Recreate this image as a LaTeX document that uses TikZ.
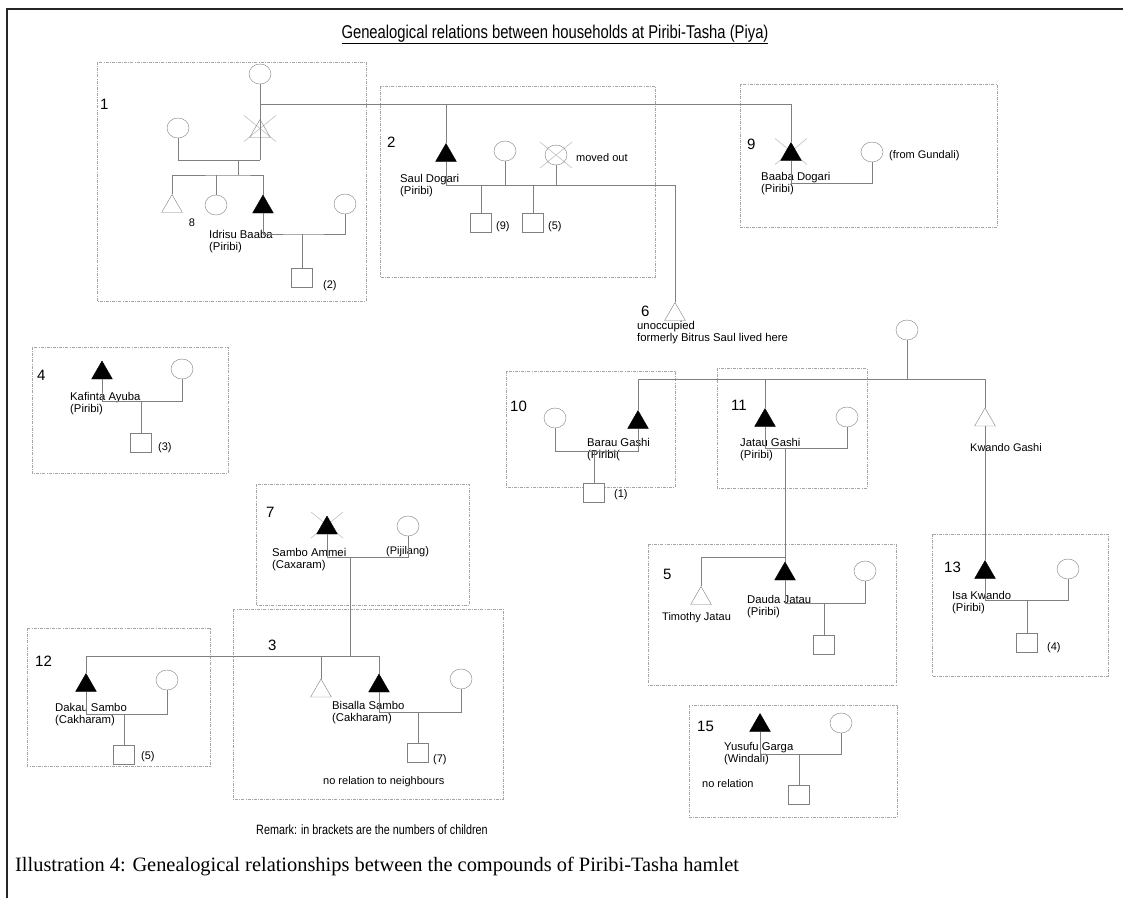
\documentclass[tikz,border=0pt]{standalone}
\usepackage{fontspec}
\setmainfont{Liberation Serif}
\newfontfamily\lblfont{Liberation Sans}
\newfontfamily\narrowfont[FakeStretch=0.8]{Liberation Sans}
\usepackage{tikz}
\usetikzlibrary{shapes.geometric, backgrounds}
\usepackage{xcolor}
\definecolor{linegray}{RGB}{128,128,128}
\definecolor{boxgray}{RGB}{165,165,165}
% light cross over a deceased / moved-out person
\newcommand{\deadx}[2][0]{\draw[deadline] ([shift={(-16,-13+#1)}]#2.center) -- ([shift={(16,13+#1)}]#2.center) ([shift={(-16,13+#1)}]#2.center) -- ([shift={(16,-13+#1)}]#2.center);}

\begin{document}
\begin{tikzpicture}[x=1pt, y=-1pt,
    kin/.style={draw=linegray, line width=0.7pt},
    male/.style={regular polygon, regular polygon sides=3, draw=black, fill=black, minimum size=24pt, inner sep=0pt},
    maleopen/.style={male, draw=linegray, fill=white},
    female/.style={ellipse, draw=linegray, fill=white, minimum width=22pt, minimum height=20pt, inner sep=0pt},
    child/.style={rectangle, draw=linegray, fill=white, minimum width=21pt, minimum height=19pt, inner sep=0pt},
    hhbox/.style={draw=boxgray, line width=0.7pt, dash pattern=on 3pt off 1.2pt on 0.8pt off 1.2pt},
    hhnum/.style={anchor=west, inner sep=0pt, font=\lblfont\fontsize{15}{15}\selectfont},
    pname/.style={anchor=north west, align=left, inner sep=0pt, font=\lblfont\fontsize{11.3}{12.5}\selectfont},
    note/.style={anchor=west, inner sep=0pt, font=\lblfont\fontsize{11}{12}\selectfont},
    deadline/.style={draw=gray!45, line width=0.7pt},
    frame/.style={draw=black!85, line width=2pt}
  ]
  \useasboundingbox (0,0) rectangle (1123,898);
  \draw[frame] (7,898) -- (7,9) -- (1123,9);

  \node[anchor=base, inner sep=0pt, font=\narrowfont\fontsize{18.5}{19}\selectfont] (title) at (555,38)
    {\underline{Genealogical relations between households at Piribi-Tasha (Piya)}};

  % households
  \draw[hhbox] (97,62) rectangle (366,301);
  \draw[hhbox] (380,86) rectangle (655,277);
  \draw[hhbox] (740,84) rectangle (997,227);
  \draw[hhbox] (32,347) rectangle (228,473);
  \draw[hhbox] (506,371) rectangle (675,487);
  \draw[hhbox] (717,368) rectangle (867,488);
  \draw[hhbox] (256,484) rectangle (469,605);
  \draw[hhbox] (233,609) rectangle (503,799);
  \draw[hhbox] (27,628) rectangle (210,766);
  \draw[hhbox] (648,544) rectangle (896,685);
  \draw[hhbox] (932,534) rectangle (1108,676);
  \draw[hhbox] (689,705) rectangle (897,817);

  \node[hhnum] (n1) at (100,104) {1};
  \node[hhnum] (n2) at (387,142) {2};
  \node[hhnum] (n9) at (747,144) {9};
  \node[hhnum] (n4) at (37,375) {4};
  \node[hhnum] (n6) at (641,311) {6};
  \node[hhnum] (n10) at (510,406) {10};
  \node[hhnum] (n11) at (731,405) {11};
  \node[hhnum] (n7) at (266,512) {7};
  \node[hhnum] (n3) at (268,645) {3};
  \node[hhnum] (n12) at (35,661) {12};
  \node[hhnum] (n5) at (663,574) {5};
  \node[hhnum] (n13) at (944,567) {13};
  \node[hhnum] (n15) at (697,726) {15};

  % household 1
  \node[female] (ma) at (260,74) {};
  \node[maleopen, fill=none] (d1) at (260,131.5) {};
  \node[female] (w1a) at (178,128) {};
  \node[maleopen] (k1a) at (172,206.5) {};
  \node[female] (k1b) at (216,205) {};
  \node[male] (idr) at (263,207) {};
  \node[female] (w1b) at (345,204) {};
  \node[child] (s1) at (302,278) {};
  \coordinate (top1) at (260,104);
  \coordinate (m1r) at (260,160);
  \coordinate (c1) at (238,160);
  \coordinate (sb1) at (238,175);
  \coordinate (m1b) at (302,234);
  \node[note, anchor=center] (l1a) at (192,223) {8};
  \node[note] (l1b) at (323,286) {(2)};
  \node[pname] (l1c) at (209,230) {Idrisu Baaba\\(Piribi)};

  % household 2
  \node[male] (saul) at (446,155.5) {};
  \node[female] (w2) at (505,151) {};
  \node[female, fill=none] (x2) at (556,155) {};
  \node[child] (k2a) at (481,223) {};
  \node[child] (k2b) at (533,223) {};
  \coordinate (m2e) at (675,185);
  \node[note] (l2a) at (576,158) {moved out};
  \node[note] (l2b) at (496,227) {(9)};
  \node[note] (l2c) at (548,227) {(5)};
  \node[pname] (l2d) at (400,174) {Saul Dogari\\(Piribi)};

  % household 9
  \node[male] (baaba) at (791,154.5) {};
  \node[female] (w9) at (872,152) {};
  \coordinate (m9) at (791,183);
  \node[note] (l9a) at (889,156) {(from Gundali)};
  \node[pname] (l9b) at (761,172) {Baaba Dogari\\(Piribi)};

  % household 4
  \node[male] (kaf) at (102,373) {};
  \node[female] (w4) at (182,369) {};
  \node[child] (s4) at (141,443) {};
  \coordinate (c4) at (141,401);
  \node[note] (l4a) at (158,448) {(3)};
  \node[pname] (l4b) at (70,392) {Kafinta Ayuba\\(Piribi)};

  % household 6
  \node[maleopen] (t6) at (675,314.5) {};
  \node[pname] (l6) at (637,321) {unoccupied\\formerly Bitrus Saul lived here};

  % Gashi family, households 10, 11, 5, 13
  \node[female] (gm) at (907,330) {};
  \coordinate (g0) at (907,379);
  \node[male] (barau) at (638,422.5) {};
  \node[female] (w10) at (555,418) {};
  \node[child] (s10) at (594,493) {};
  \coordinate (m10) at (594,451);
  \node[note] (l10a) at (614,495) {(1)};
  \node[pname] (l10b) at (587,438) {Barau Gashi\\(Piribi(};

  \node[male] (jatau) at (765,420.5) {};
  \node[female] (w11) at (847,417) {};
  \coordinate (m11) at (785,448);
  \node[pname] (l11) at (740,438) {Jatau Gashi\\(Piribi)};

  \node[maleopen] (kwando) at (985,420) {};
  \node[note] (lkw) at (970,448) {Kwando Gashi};

  \node[male] (dauda) at (785,574) {};
  \node[maleopen] (timothy) at (701,598.5) {};
  \node[female] (w5) at (865,571) {};
  \node[child] (s5) at (824,645) {};
  \coordinate (sb5) at (785,557);
  \coordinate (m5) at (824,603);
  \node[note] (l5a) at (662,618) {Timothy Jatau};
  \node[pname] (l5b) at (747,595) {Dauda Jatau\\(Piribi)};

  \node[male] (isa) at (985,572.5) {};
  \node[female] (w13) at (1068,569) {};
  \node[child] (s13) at (1027,643) {};
  \coordinate (m13) at (1027,600);
  \node[note] (l13a) at (1047,648) {(4)};
  \node[pname] (l13b) at (952,591) {Isa Kwando\\(Piribi)};

  % household 15
  \node[male] (yus) at (760,725.5) {};
  \node[female] (w15) at (841,723) {};
  \node[child] (s15) at (799,795) {};
  \coordinate (m15) at (799,754);
  \node[pname] (l15a) at (724,742) {Yusufu Garga\\(Windali)};
  \node[note] (l15b) at (702,784) {no relation};

  % households 7, 3, 12
  \node[male] (sambo) at (327,528) {};
  \node[female] (w7) at (408,526) {};
  \coordinate (m7) at (350,557);
  \coordinate (sb3) at (350,656);
  \node[pname] (l7a) at (272,548) {Sambo Ammei\\(Caxaram)};
  \node[note] (l7b) at (386,552) {(Pijilang)};

  \node[maleopen] (t3) at (321,691) {};
  \node[male] (bisalla) at (379,686) {};
  \node[female] (w3) at (461,679) {};
  \node[child] (s3) at (418,753) {};
  \coordinate (m3) at (418,712);
  \node[note] (l3a) at (433,760) {(7)};
  \node[pname] (l3b) at (332,701) {Bisalla Sambo\\(Cakharam)};
  \node[note] (l3c) at (323,782) {no relation to neighbours};

  \node[male] (dakau) at (86,685.5) {};
  \node[female] (w12) at (167,680) {};
  \node[child] (s12) at (124,755) {};
  \coordinate (m12) at (124,714);
  \node[note] (l12a) at (141,757) {(5)};
  \node[pname] (l12b) at (55,703) {Dakau Sambo\\(Cakharam)};

  % kinship lines
  \draw[kin] (ma) -- (m1r);
  \draw[kin] (top1) -| (saul.north);
  \draw[kin] (top1) -| (baaba.north);
  \draw[kin] (w1a) |- (m1r);
  \draw[kin] (c1) -- (sb1);
  \draw[kin] (k1a.north) |- (sb1) -| (idr.north);
  \draw[kin] (k1b) -- (k1b |- sb1);
  \draw[kin] (idr.south) |- (m1b) -| (w1b);
  \draw[kin] (m1b) -- (s1);

  \draw[kin] (saul.south) |- (m2e) -- (t6.north);
  \draw[kin] (w2) -- (w2 |- m2e);
  \draw[kin] (x2) -- (x2 |- m2e);
  \draw[kin] (k2a) -- (k2a |- m2e);
  \draw[kin] (k2b) -- (k2b |- m2e);

  \draw[kin] (baaba.south) -- (m9) -| (w9);

  \draw[kin] (kaf.south) |- (c4) -| (w4);
  \draw[kin] (c4) -- (s4);

  \draw[kin] (gm) -- (g0);
  \draw[kin] (barau.north) |- (g0);
  \draw[kin] (kwando.north) |- (g0);
  \draw[kin] (jatau.north) -- (jatau.north |- g0);
  \draw[kin] (kwando) -- (isa);

  \draw[kin] (w10) |- (m10) -| (barau.south);
  \draw[kin] (m10) -- (s10);
  \draw[kin] (jatau.south) |- (m11) -| (w11);
  \draw[kin] (m11) -- (dauda.north);

  \draw[kin] (timothy.north) |- (sb5);
  \draw[kin] (dauda.south) |- (m5) -| (w5);
  \draw[kin] (m5) -- (s5);

  \draw[kin] (isa.south) |- (m13) -| (w13);
  \draw[kin] (m13) -- (s13);

  \draw[kin] (yus.south) |- (m15) -| (w15);
  \draw[kin] (m15) -- (s15);

  \draw[kin] (sambo.south) |- (m7) -| (w7);
  \draw[kin] (m7) -- (sb3);
  \draw[kin] (dakau.north) |- (sb3);
  \draw[kin] (bisalla.north) |- (sb3);
  \draw[kin] (t3.north) -- (t3.north |- sb3);
  \draw[kin] (bisalla.south) |- (m3) -| (w3);
  \draw[kin] (m3) -- (s3);
  \draw[kin] (dakau.south) |- (m12) -| (w12);
  \draw[kin] (m12) -- (s12);

  % crosses behind the symbols
  \begin{scope}[on background layer]
    \deadx[-3]{d1}
    \deadx{x2}
    \deadx[-3]{baaba}
    \deadx[-3]{sambo}
  \end{scope}

  \node[anchor=west, inner sep=0pt, font=\narrowfont\fontsize{13.5}{14}\selectfont] (remark) at (256,830)
    {Remark: in brackets are the numbers of children};
  \node[anchor=west, inner sep=0pt, font=\fontsize{20.4}{22}\selectfont] (caption) at (15,866)
    {Illustration 4: Genealogical relationships between the compounds of Piribi-Tasha hamlet};
\end{tikzpicture}
\end{document}
